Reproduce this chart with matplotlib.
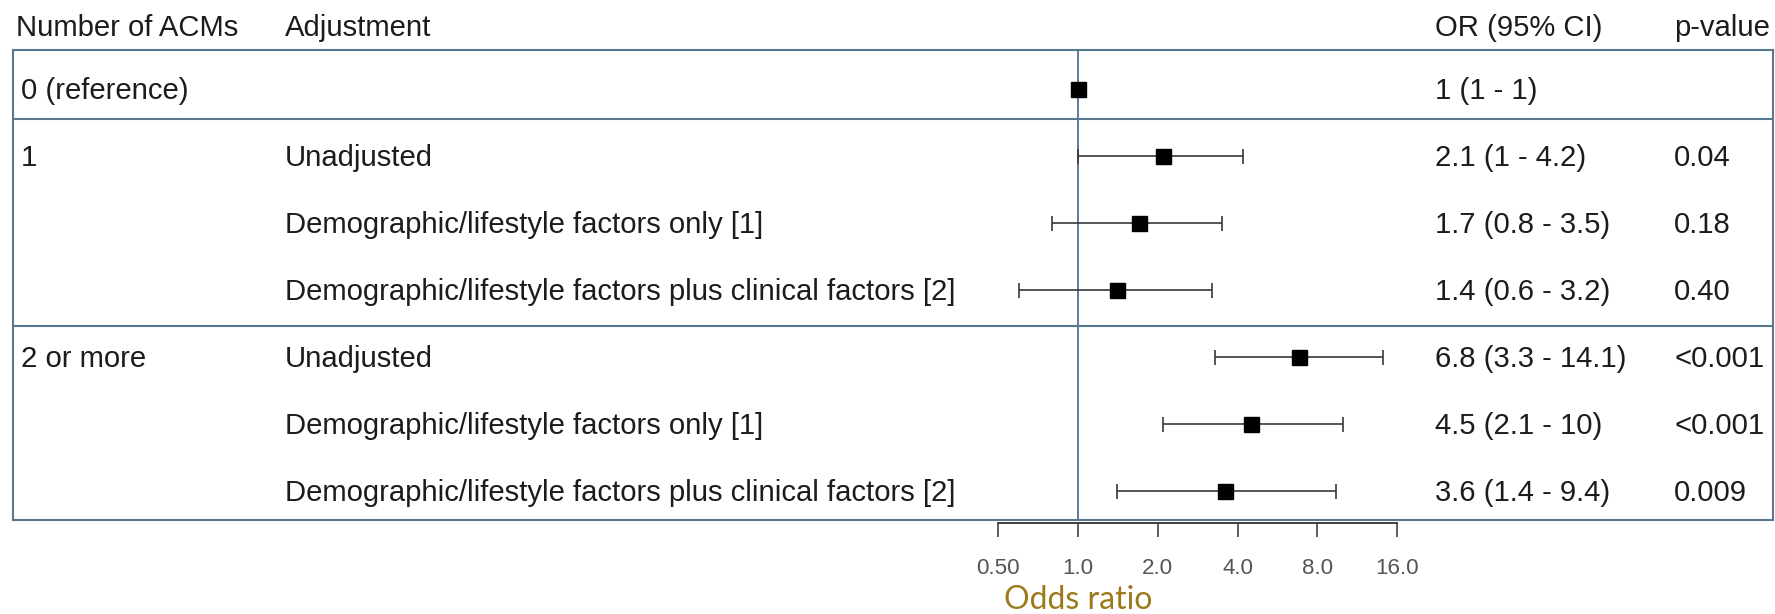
import matplotlib
matplotlib.use("Agg")
import matplotlib.pyplot as plt
import matplotlib.transforms as mtransforms
import numpy as np

# ---------------- data ----------------
headers = ["Number of ACMs", "Adjustment", "OR (95% CI)", "p-value"]
acm_groups = ["0 (reference)", "1", "", "", "2 or more", "", ""]
adjustments = [
    "",
    "Unadjusted",
    "Demographic/lifestyle factors only [1]",
    "Demographic/lifestyle factors plus clinical factors [2]",
    "Unadjusted",
    "Demographic/lifestyle factors only [1]",
    "Demographic/lifestyle factors plus clinical factors [2]",
]
odds_ratio = [1.0, 2.1, 1.7, 1.4, 6.8, 4.5, 3.6]
ci_lower = [1.0, 1.0, 0.8, 0.6, 3.3, 2.1, 1.4]
ci_upper = [1.0, 4.2, 3.5, 3.2, 14.1, 10.0, 9.4]
or_labels = ["1 (1 - 1)", "2.1 (1 - 4.2)", "1.7 (0.8 - 3.5)", "1.4 (0.6 - 3.2)",
             "6.8 (3.3 - 14.1)", "4.5 (2.1 - 10)", "3.6 (1.4 - 9.4)"]
p_values = ["", "0.04", "0.18", "0.40", "<0.001", "<0.001", "0.009"]
x_ticks = [0.5, 1, 2, 4, 8, 16]
x_tick_labels = ["0.50", "1.0", "2.0", "4.0", "8.0", "16.0"]
x_label = "Odds ratio"

# ---------------- layout (pixels) ----------------
W, H = 1775, 614
DPI = 100
box_l, box_r, box_t, box_b = 13, 1773, 50, 520
ref_px = 1078.0          # pixel x of OR = 1
px_per_doubling = 79.8
row0_px, row_step = 88.5, 67.0
sep_px = [119.3, 325.5]
header_x = [16, 285, 1435, 1674]
col_x = [21, 285, 1435, 1674]
header_baseline = 35.5
cap_half = 10.5
axis_y = 522.7

text_color = "#1c1c1c"
box_color = "#58788f"
ref_color = "#43628a"
bar_color = "#383838"
font = ["Liberation Sans", "DejaVu Sans"]
fs = 21.1

plt.rcParams["font.family"] = font


def fx(px):
    return px / W


def fy(py):
    return 1 - py / H


def row_of(py):
    return (py - row0_px) / row_step


fig = plt.figure(figsize=(W / DPI, H / DPI), dpi=DPI)
fig.patch.set_facecolor("white")

# ---------------- main forest axes ----------------
ax = fig.add_axes([fx(box_l), fy(box_b), (box_r - box_l) / W, (box_b - box_t) / H])
ax.set_xscale("log", base=2)
ax.set_xlim(2 ** ((box_l - ref_px) / px_per_doubling), 2 ** ((box_r - ref_px) / px_per_doubling))
ax.set_ylim(row_of(box_b), row_of(box_t))
ax.tick_params(which="both", bottom=False, left=False, labelbottom=False, labelleft=False)
ax.xaxis.set_major_locator(matplotlib.ticker.NullLocator())
ax.xaxis.set_minor_locator(matplotlib.ticker.NullLocator())
for s in ax.spines.values():
    s.set_color(box_color)
    s.set_linewidth(1.5)

rows = np.arange(len(odds_ratio))
orr = np.array(odds_ratio)
lo = np.array(ci_lower)
hi = np.array(ci_upper)

ax.axvline(1, color=ref_color, lw=1.2, zorder=1)
for sp in sep_px:
    ax.axhline(row_of(sp), color=box_color, lw=1.5, zorder=1)

ax.errorbar(orr, rows, xerr=[orr - lo, hi - orr], fmt="s", color="black",
            markersize=10.8, ecolor=bar_color, elinewidth=1.2, capsize=5.4,
            capthick=1.2, zorder=3)

# ---------------- table text ----------------
row_trans = mtransforms.blended_transform_factory(fig.transFigure, ax.transData) + \
    mtransforms.ScaledTranslation(0, -cap_half / DPI, fig.dpi_scale_trans)

for x, h in zip(header_x, headers):
    fig.text(fx(x), fy(header_baseline), h, fontsize=fs, color=text_color, va="baseline", ha="left")

for i in rows:
    for x, txt in zip(col_x, [acm_groups[i], adjustments[i], or_labels[i], p_values[i]]):
        if txt:
            fig.text(fx(x), i, txt, transform=row_trans, fontsize=fs, color=text_color,
                     va="baseline", ha="left")

# ---------------- x axis ----------------
x0_px = ref_px + px_per_doubling * np.log2(x_ticks[0])
x1_px = ref_px + px_per_doubling * np.log2(x_ticks[-1])
ax2 = fig.add_axes([fx(x0_px), fy(axis_y), (x1_px - x0_px) / W, 0.0001])
ax2.set_xscale("log", base=2)
ax2.set_xlim(x_ticks[0], x_ticks[-1])
ax2.patch.set_visible(False)
for k in ["top", "left", "right"]:
    ax2.spines[k].set_visible(False)
ax2.spines["bottom"].set_color("#333333")
ax2.spines["bottom"].set_linewidth(1.3)
ax2.set_yticks([])
ax2.xaxis.set_minor_locator(matplotlib.ticker.NullLocator())
ax2.set_xticks(x_ticks)
ax2.set_xticklabels(x_tick_labels)
ax2.tick_params(axis="x", length=10, width=1.1, color="#333333", labelsize=16.1,
                labelcolor="#555555", pad=15.5)

fig.text(fx(ref_px), fy(609), x_label, fontsize=23, color="#9c7a1a",
         family=["Lato", "DejaVu Sans"], ha="center", va="baseline")

fig.savefig("out.png", dpi=DPI, facecolor="white")
